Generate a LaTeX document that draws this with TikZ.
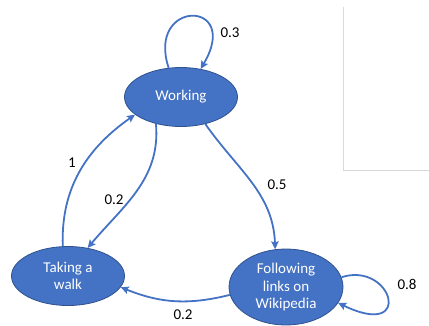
\documentclass[tikz,border=0pt]{standalone}
\usepackage{fontspec}
\setmainfont{Carlito}
\usetikzlibrary{shapes.geometric,arrows.meta}
\definecolor{stateblue}{HTML}{4472C4}
\definecolor{stateedge}{HTML}{2F528F}
\definecolor{framegray}{HTML}{D9D9D9}
\tikzset{
  state/.style={ellipse, fill=stateblue, draw=stateedge, line width=0.8pt, text=white, inner sep=0pt, align=center, font=\fontsize{15}{17.6}\selectfont},
  trans/.style={->, draw=stateblue, line width=1.8pt},
  prob/.style={font=\fontsize{15}{17.6}\selectfont}
}
\begin{document}
\begin{tikzpicture}[>={Stealth[length=8pt, width=7.5pt, inset=1.5pt]}, x=1pt, y=1pt]
\useasboundingbox (0,0) rectangle (429,325);
\draw[framegray, line width=0.8pt](343,318)--(343,155)--(429,155);

\node[state, minimum width=113pt, minimum height=59pt] (work) at (181,228) {Working};
\node[state, minimum width=113pt, minimum height=59pt] (walk) at (68,49) {Taking a\\walk};
\node[state, minimum width=114pt, minimum height=76pt] (wiki) at (286,38) {Following\\links on\\Wikipedia};

\draw[trans](work.113) .. controls (146,326) and (242,326) .. (work.55);
\node[prob] (p1) at (230,292) {0.3};
\draw[trans](walk.100) to[out=92, in=215] (work.201);
\node[prob] (p2) at (72,162) {1};
\draw[trans](work.227) to[out=-85, in=50] (walk.55);
\node[prob] (p3) at (114,125) {0.2};
\draw[trans](work.-48) to[out=-55, in=92] (wiki.106);
\node[prob] (p4) at (277,140) {0.5};
\draw[trans](wiki.188) to[bend left=18] (walk.-12);
\node[prob] (p5) at (183,10) {0.2};
\draw[trans](wiki.10) .. controls (392,64) and (415,-15) .. (wiki.-17);
\node[prob] (p6) at (407,41) {0.8};
\end{tikzpicture}
\end{document}
